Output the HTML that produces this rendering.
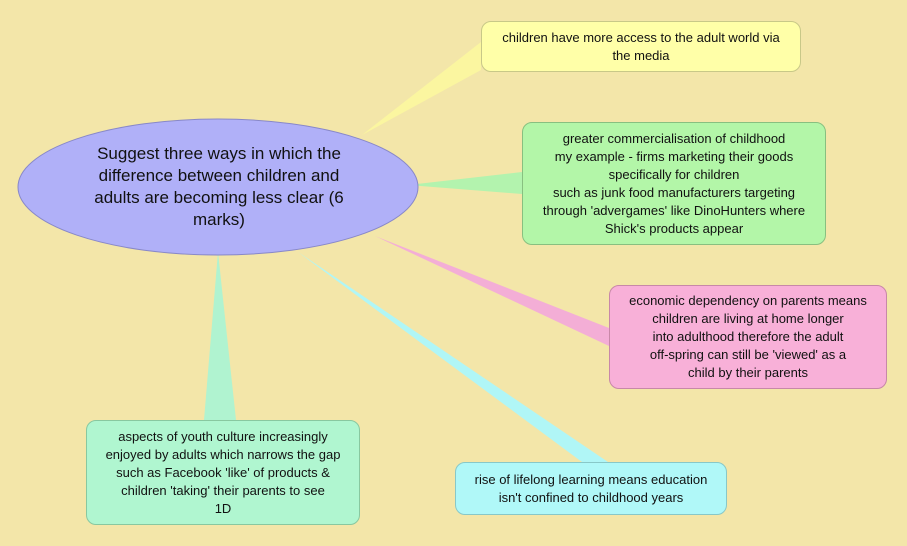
<!DOCTYPE html>
<html><head><meta charset="utf-8"><style>
body{margin:0;width:907px;height:546px;background:#f3e6a9;position:relative;overflow:hidden;font-family:"Liberation Sans",sans-serif;}
.b{position:absolute;box-sizing:border-box;border-radius:10px;font-size:13px;line-height:18px;text-align:center;color:#111;display:flex;align-items:center;justify-content:center;border:1px solid;}
</style></head><body>
<svg width="907" height="546" style="position:absolute;left:0;top:0">
<polygon points="362,135 481,42 481,70" fill="#fbf6a0"/>
<polygon points="408,185 522,172 522,194" fill="#b3f3ae"/>
<polygon points="375,236 609,328 609,346" fill="#f3aed6"/>
<polygon points="298,252 582,462 608,462" fill="#b0f6f6"/>
<polygon points="218,252 204,420 236,420" fill="#b0f3d0"/>
<ellipse cx="218" cy="187" rx="200" ry="68" fill="#b0b0f8" stroke="#8888c8" stroke-width="1"/>
</svg>
<div style="position:absolute;left:82px;top:143px;width:274px;text-align:center;font-size:17px;line-height:22px;color:#111">Suggest three ways in which the difference between children and adults are becoming less clear (6 marks)</div>
<div class="b" style="left:481px;top:21px;width:320px;height:51px;background:#ffffa8;border-color:#c8c888">children have more access to the adult world via<br>the media</div>
<div class="b" style="left:522px;top:122px;width:304px;height:123px;background:#b3f6a8;border-color:#88c080">greater commercialisation of childhood<br>my example - firms marketing their goods<br>specifically for children<br>such as junk food manufacturers targeting<br>through 'advergames' like DinoHunters where<br>Shick's products appear</div>
<div class="b" style="left:609px;top:285px;width:278px;height:104px;background:#f8b0d8;border-color:#c888a8">economic dependency on parents means<br>children are living at home longer<br>into adulthood therefore the adult<br>off-spring can still be 'viewed' as a<br>child by their parents</div>
<div class="b" style="left:455px;top:462px;width:272px;height:53px;background:#b0f8f8;border-color:#88c8c8">rise of lifelong learning means education<br>isn't confined to childhood years</div>
<div class="b" style="left:86px;top:420px;width:274px;height:105px;background:#b0f6d0;border-color:#88c8a0">aspects of youth culture increasingly<br>enjoyed by adults which narrows the gap<br>such as Facebook 'like' of products &amp;<br>children 'taking' their parents to see<br>1D</div>
</body></html>
